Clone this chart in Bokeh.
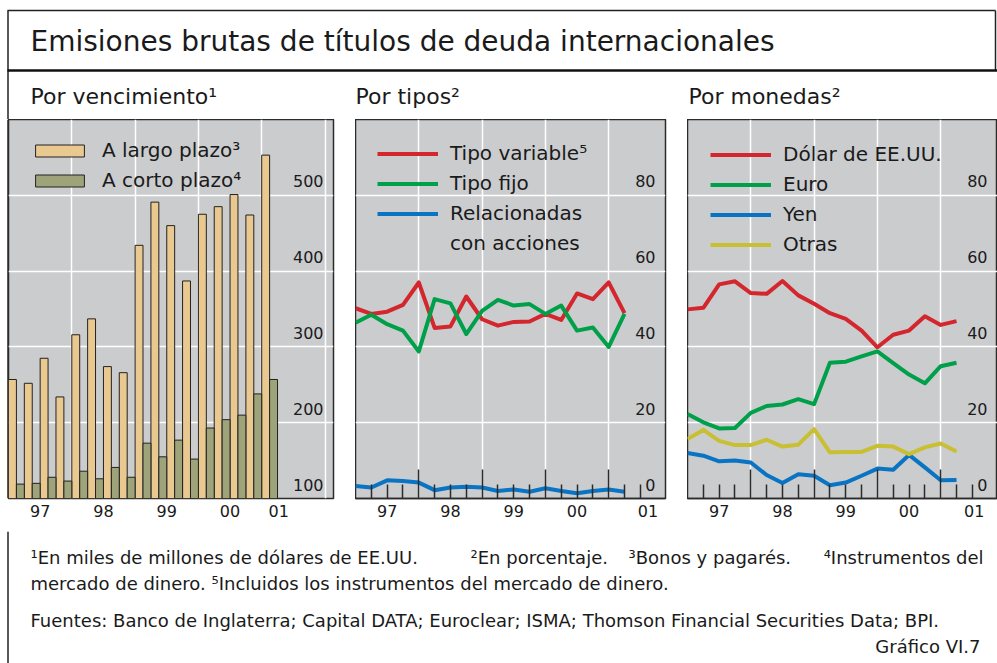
from bokeh.plotting import figure
from bokeh.models import Range1d, FixedTicker, LinearAxis, Legend, LegendItem, ColumnDataSource
from bokeh.layouts import column, row
from bokeh.embed import file_html
from bokeh.resources import INLINE
from bokeh.core.properties import value

FONT = "DejaVu Sans"
INK = "#1a1a1a"
BG = "#cbccce"
LINE = "#222222"

# ---------------- data ----------------
bar_quarters = ["1997-1", "1997-2", "1997-3", "1997-4", "1998-1", "1998-2", "1998-3", "1998-4",
                "1999-1", "1999-2", "1999-3", "1999-4", "2000-1", "2000-2", "2000-3", "2000-4",
                "2001-1"]
largo_plazo = [257, 252, 285, 234, 316, 337, 274, 266, 434, 491, 460, 387, 475, 485, 501, 474, 553]
corto_plazo = [119, 120, 128, 123, 136, 126, 141, 128, 173, 155, 177, 152, 193, 204, 210, 238, 257]

line_quarters = ["1996-4", "1997-1", "1997-2", "1997-3", "1997-4", "1998-1", "1998-2", "1998-3",
                 "1998-4", "1999-1", "1999-2", "1999-3", "1999-4", "2000-1", "2000-2", "2000-3",
                 "2000-4", "2001-1"]
tipo_variable = [50.2, 48.7, 49.3, 51.1, 57.0, 45.0, 45.4, 53.3, 47.3, 45.6, 46.6, 46.7, 48.7, 47.1,
                 54.1, 52.6, 57.0, 48.9]
tipo_fijo = [46.4, 48.5, 46.0, 44.3, 38.8, 52.6, 51.5, 43.4, 49.5, 52.4, 50.9, 51.3, 48.7, 50.9,
             44.3, 45.1, 40.0, 48.7]
acciones = [3.3, 2.9, 4.8, 4.6, 4.2, 2.2, 2.9, 3.1, 2.9, 2.0, 2.4, 1.8, 2.7, 2.0, 1.4, 2.0, 2.4, 1.8]

dolar = [49.9, 50.3, 56.5, 57.3, 54.2, 54.0, 57.4, 53.6, 51.4, 48.9, 47.4, 44.3, 39.9, 43.2, 44.3,
         48.1, 45.8, 46.8]
euro = [22.3, 20.1, 18.5, 18.6, 22.6, 24.4, 24.8, 26.2, 24.9, 35.8, 36.1, 37.5, 38.8, 35.7, 32.7,
        30.4, 34.9, 35.8]
yen = [12.0, 11.3, 9.8, 10.0, 9.5, 6.2, 4.1, 6.4, 6.0, 3.5, 4.2, 6.0, 7.9, 7.6, 11.5, 8.2, 4.8, 4.9]
otras = [15.7, 18.1, 15.2, 14.1, 14.1, 15.5, 13.7, 14.2, 18.3, 12.2, 12.3, 12.3, 13.9, 13.7, 11.7,
         13.5, 14.5, 12.4]

year_labels = ["97", "98", "99", "00", "01"]
amount_ticks = [100, 200, 300, 400, 500]
pct_ticks = [0, 20, 40, 60, 80]


def q_start(s):
    y, q = s.split("-")
    return int(y) + (int(q) - 1) / 4


def q_end(s):
    y, q = s.split("-")
    return int(y) + int(q) / 4


PX_PER_YEAR = 63.3
YEAR_BOUNDS = [1998, 1999, 2000, 2001, 2002]
QUARTER_MINOR = [y + k / 4 for y in range(1997, 2002) for k in (1, 2, 3)][:-1]


def make_panel(width, frame_w, border_right, y_range, grid_ticks, ylabels, xlabel_pos, inner_ticks):
    x_end = 1997.0 + frame_w / PX_PER_YEAR
    p = figure(width=width, height=412, x_range=Range1d(1997.0, x_end), y_range=Range1d(*y_range),
               x_axis_location=None, y_axis_location=None, toolbar_location=None,
               output_backend="svg", min_border_left=0, min_border_right=border_right,
               min_border_top=0, min_border_bottom=33, background_fill_color=BG,
               border_fill_color="white", outline_line_color="#2b2b2b", outline_line_width=1.5)
    p.xgrid.ticker = FixedTicker(ticks=YEAR_BOUNDS)
    p.ygrid.ticker = FixedTicker(ticks=grid_ticks)
    for g in (p.xgrid, p.ygrid):
        g.grid_line_color = "white"
        g.grid_line_width = 1.5
    if inner_ticks:
        tick_axis = LinearAxis(ticker=FixedTicker(ticks=[1998, 1999, 2000, 2001], minor_ticks=QUARTER_MINOR),
                               major_tick_in=29, major_tick_out=0, minor_tick_in=14, minor_tick_out=0,
                               major_label_text_font_size="1px", major_label_text_color=None,
                               major_label_standoff=0,
                               axis_line_color="#2b2b2b", axis_line_width=1.5,
                               major_tick_line_color="#2b2b2b", minor_tick_line_color="#2b2b2b",
                               major_tick_line_width=1.5, minor_tick_line_width=1.5)
        p.add_layout(tick_axis, "below")
    lab_axis = LinearAxis(ticker=FixedTicker(ticks=xlabel_pos),
                          major_label_overrides={t: l for t, l in zip(xlabel_pos, year_labels)},
                          major_tick_line_color=None, minor_tick_line_color=None, axis_line_color=None,
                          major_label_standoff=0, major_label_text_font=FONT,
                          major_label_text_font_size="16px", major_label_text_color=INK)
    p.add_layout(lab_axis, "below")
    p.text(x=[x_end] * len(ylabels), y=ylabels, text=[str(v) for v in ylabels],
           text_align="right", text_baseline="middle", x_offset=-10, y_offset=-14,
           text_font=value(FONT), text_font_size="16px", text_color=INK)
    return p


def style_legend(leg, loc):
    leg.location = loc
    leg.padding = 0
    leg.margin = 0
    leg.border_line_color = None
    leg.background_fill_alpha = 0
    leg.label_text_font = FONT
    leg.label_text_font_size = "20px"
    leg.label_text_color = INK
    leg.label_standoff = 12
    leg.glyph_width = 61
    leg.glyph_height = 15
    leg.spacing = 6
    leg.label_height = 24


# ---------------- header ----------------
hdr = figure(width=997, height=119, x_range=Range1d(0, 997), y_range=Range1d(119, 0),
             x_axis_location=None, y_axis_location=None, toolbar_location=None,
             output_backend="svg", min_border=0, outline_line_color=None)
hdr.grid.visible = False
hdr.segment(x0=[7.5], y0=[10], x1=[7.5], y1=[119], line_color=LINE, line_width=1.5)
hdr.segment(x0=[7, 995], y0=[10, 10], x1=[995, 995], y1=[10, 70], line_color=LINE, line_width=1.5)
hdr.segment(x0=[7], y0=[70], x1=[997], y1=[70], line_color="#111111", line_width=2.5)
hdr.text(x=[30], y=[41], text=["Emisiones brutas de títulos de deuda internacionales"],
         text_font=value(FONT), text_font_size="28px", text_color=INK, text_baseline="middle")
hdr.text(x=[30, 355, 688], y=[96, 96, 96], text=["Por vencimiento¹", "Por tipos²", "Por monedas²"],
         text_font=value(FONT), text_font_size="22px", text_color=INK, text_baseline="middle")

# thin strip carrying the frame's left rule beside the first panel
strip = figure(width=8, height=412, x_range=Range1d(0, 8), y_range=Range1d(412, 0),
               x_axis_location=None, y_axis_location=None, toolbar_location=None,
               output_backend="svg", min_border=0, outline_line_color=None)
strip.grid.visible = False
strip.segment(x0=[7.5], y0=[0], x1=[7.5], y1=[412], line_color=LINE, line_width=1.5)

# ---------------- left panel: bars ----------------
p1 = make_panel(347, 325, 22, (100, 600), [200, 300, 400, 500], amount_ticks,
                [1997.5, 1998.5, 1999.5, 2000.5, 2001.27], False)
xs = [q_start(q) for q in bar_quarters]
src = ColumnDataSource(dict(xl=[x + 0.0625 for x in xs], xc=[x + 0.1875 for x in xs],
                            largo=largo_plazo, corto=corto_plazo))
r_l = p1.vbar(x="xl", top="largo", bottom=0, width=0.125, source=src, fill_color="#e9c98f",
              line_color=LINE, line_width=1)
r_c = p1.vbar(x="xc", top="corto", bottom=0, width=0.125, source=src, fill_color="#9fa37a",
              line_color=LINE, line_width=1)
leg1 = Legend(items=[LegendItem(label="A largo plazo³", renderers=[r_l]),
                     LegendItem(label="A corto plazo⁴", renderers=[r_c])])
style_legend(leg1, (21, 306))
p1.add_layout(leg1)

# ---------------- middle panel: types ----------------
xl = [q_end(q) for q in line_quarters]
p2 = make_panel(332, 310, 22, (0, 100), [20, 40, 60, 80], pct_ticks,
                [1997.5, 1998.5, 1999.5, 2000.5, 2001.62], True)
lw = 4
r_v = p2.line(xl, tipo_variable, line_color="#d3262d", line_width=lw, line_join="round")
r_f = p2.line(xl, tipo_fijo, line_color="#00a04b", line_width=lw, line_join="round")
r_a = p2.line(xl, acciones, line_color="#0a74c4", line_width=lw, line_join="round")
leg2 = Legend(items=[LegendItem(label="Tipo variable⁵", renderers=[r_v]),
                     LegendItem(label="Tipo fijo", renderers=[r_f]),
                     LegendItem(label="Relacionadas", renderers=[r_a]),
                     LegendItem(label="con acciones", renderers=[])])
style_legend(leg2, (22, 243))
p2.add_layout(leg2)

# ---------------- right panel: currencies ----------------
p3 = make_panel(310, 310, 0, (0, 100), [20, 40, 60, 80], pct_ticks,
                [1997.5, 1998.5, 1999.5, 2000.5, 2001.53], True)
r_d = p3.line(xl, dolar, line_color="#d3262d", line_width=lw, line_join="round")
r_e = p3.line(xl, euro, line_color="#00a04b", line_width=lw, line_join="round")
r_y = p3.line(xl, yen, line_color="#0a74c4", line_width=lw, line_join="round")
r_o = p3.line(xl, otras, line_color="#c9bf33", line_width=lw, line_join="round")
leg3 = Legend(items=[LegendItem(label="Dólar de EE.UU.", renderers=[r_d]),
                     LegendItem(label="Euro", renderers=[r_e]),
                     LegendItem(label="Yen", renderers=[r_y]),
                     LegendItem(label="Otras", renderers=[r_o])])
style_legend(leg3, (23, 242))
p3.add_layout(leg3)

# ---------------- footnotes ----------------
ft = figure(width=997, height=132, x_range=Range1d(0, 997), y_range=Range1d(132, 0),
            x_axis_location=None, y_axis_location=None, toolbar_location=None,
            output_backend="svg", min_border=0, outline_line_color=None)
ft.grid.visible = False
ft.segment(x0=[7.5], y0=[0], x1=[7.5], y1=[132], line_color=LINE, line_width=1.5)
fsize = "18px"
ft.text(x=[30, 470, 628], y=[26, 26, 26],
        text=["¹En miles de millones de dólares de EE.UU.", "²En porcentaje.", "³Bonos y pagarés."],
        text_font=value(FONT), text_font_size=fsize, text_color=INK, text_baseline="middle")
ft.text(x=[983], y=[26], text=["⁴Instrumentos del"], text_align="right",
        text_font=value(FONT), text_font_size=fsize, text_color=INK, text_baseline="middle")
ft.text(x=[30], y=[52], text=["mercado de dinero.   ⁵Incluidos los instrumentos del mercado de dinero."],
        text_font=value(FONT), text_font_size=fsize, text_color=INK, text_baseline="middle")
ft.text(x=[30], y=[89],
        text=["Fuentes: Banco de Inglaterra; Capital DATA; Euroclear; ISMA; Thomson Financial Securities Data; BPI."],
        text_font=value(FONT), text_font_size=fsize, text_color=INK, text_baseline="middle")
ft.text(x=[980], y=[115], text=["Gráfico VI.7"], text_align="right",
        text_font=value(FONT), text_font_size=fsize, text_color=INK, text_baseline="middle")

layout = column(hdr, row(strip, p1, p2, p3, spacing=0), ft, spacing=0)
open("out.html", "w").write(file_html(layout, INLINE))
